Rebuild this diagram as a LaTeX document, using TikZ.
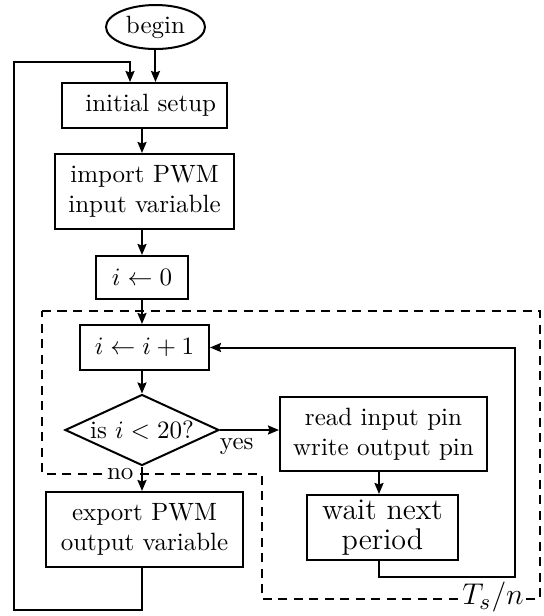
\documentclass[tikz,border=0pt]{standalone}
\usetikzlibrary{shapes.geometric,arrows.meta}
\begin{document}
\begin{tikzpicture}[x=0.4pt,y=-0.4pt,
  line width=0.8pt,
  box/.style={draw,rectangle,inner sep=1pt,align=center,font=\normalsize},
  arr/.style={-{Stealth[length=4.4pt,width=3.6pt,inset=0.6pt]}},
  dashbox/.style={dash pattern=on 3.6pt off 2.6pt},
  lbl/.style={fill=white,inner sep=1pt}]
\useasboundingbox (0,0) rectangle (544,616);
% column guides
\coordinate (cx) at (142,0);
\coordinate (rx) at (379,0);
\coordinate (lx) at (130,0);
% nodes
\node[draw,ellipse,minimum width=39.6pt,minimum height=17.6pt,inner sep=0pt] (begin) at (155.5,27) {begin};
\node[box,minimum width=66pt,minimum height=18pt] (init) at (144.5,105.5) {\hspace*{5pt}initial setup};
\node[box,minimum width=71.6pt,minimum height=30pt] (imp) at (144.5,191.5) {import PWM\\input variable};
\node[box,minimum width=36.8pt,minimum height=17.2pt] (zero) at (142,277.5) {$i\leftarrow 0$};
\node[box,minimum width=51.6pt,minimum height=18pt] (inc) at (144.5,347.5) {$i\leftarrow i+1$};
\node[draw,diamond,aspect=2.17,inner sep=0pt,minimum width=61.6pt,minimum height=28.4pt] (dec) at (142,430) {is $i<20$?};
\node[box,minimum width=82.8pt,minimum height=29.6pt] (read) at (383.5,434) {read input pin\\write output pin};
\node[box,minimum width=60.4pt,minimum height=26pt,font=\large,inner sep=0pt] (wait) at (382.5,527.5) {wait next\\[-2pt]period};
\node[box,minimum width=78.8pt,minimum height=30pt] (exp) at (144.5,529.5) {export PWM\\output variable};
% loop helpers
\coordinate (lb) at (14,610);
\coordinate (lt) at (14,62);
\coordinate (rb) at (515,577);
% dashed region
\coordinate (d1) at (42,311);
\coordinate (d2) at (540,311);
\coordinate (d3) at (540,599);
\coordinate (d4) at (262,599);
\coordinate (d5) at (262,474);
\coordinate (d6) at (42,474);
\draw[dashbox] (d1) -- (d2) -- (d3) -- (d4) -- (d5) -- (d6) -- cycle;
% connectors
\draw[arr] (begin.south) -- (init.north -| begin.south);
\draw[arr] (init.south -| cx) -- (imp.north -| cx);
\draw[arr] (imp.south -| cx) -- (zero.north -| cx);
\draw[arr] (zero.south -| cx) -- (inc.north -| cx);
\draw[arr] (inc.south -| cx) -- (dec.north);
\draw[arr] (dec.east) -- (read.west |- dec.east);
\draw[arr] (read.south -| rx) -- (wait.north -| rx);
\draw[arr] (dec.south) -- (exp.north -| dec.south);
\draw[arr] (wait.south -| rx) |- (rb) |- (inc.east);
\draw[arr] (exp.south -| cx) |- (lb) -- (lt) -| (init.north -| lx);
% labels
\node[anchor=north west,inner sep=0pt] (yes) at (219,437) {yes};
\node[lbl,anchor=east] (no) at (137,474) {no};
\node[lbl,font=\fontsize{13}{15}\selectfont,inner sep=0.5pt] (ts) at (493,597) {$T_s/n$};
\end{tikzpicture}
\end{document}
